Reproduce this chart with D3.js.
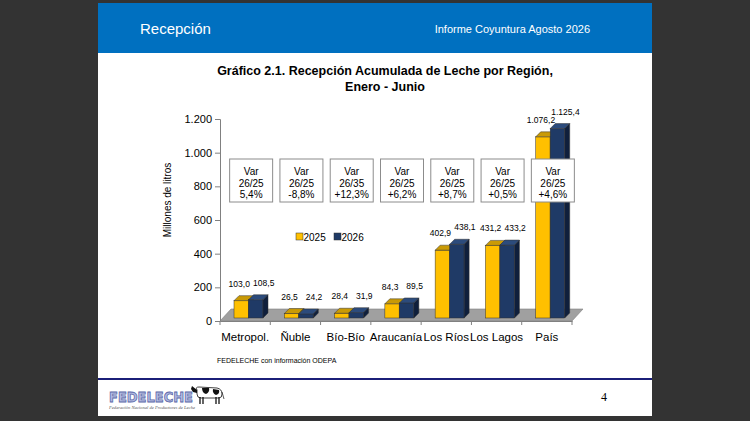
<!DOCTYPE html>
<html>
<head>
<meta charset="utf-8">
<script src="https://cdn.jsdelivr.net/npm/d3@7"></script>
<style>
  html, body { margin: 0; padding: 0; background: #333333; }
  svg { display: block; font-family: "Liberation Sans", Arial, sans-serif; }
</style>
</head>
<body>
<div id="plot"></div>
<script>
// Data
var regions = ["Metropol.", "Ñuble", "Bío-Bío", "Araucanía", "Los Ríos", "Los Lagos", "País"];
var years = ["2025", "2026"];
var values2025 = [103.0, 26.5, 28.4, 84.3, 402.9, 431.2, 1076.2];
var values2026 = [108.5, 24.2, 31.9, 89.5, 438.1, 433.2, 1125.4];
var varPeriods = ["26/25", "26/25", "26/35", "26/25", "26/25", "26/25", "26/25"];
var varLabels = ["5,4%", "-8,8%", "+12,3%", "+6,2%", "+8,7%", "+0,5%", "+4,6%"];
var yTicks = [0, 200, 400, 600, 800, 1000, 1200];

var W = 750, H = 421;
var colors = {
  "2025": {front: "#FFC000", top: "#C99A06", side: "#A67F00"},
  "2026": {front: "#1F3A66", top: "#2C4B7C", side: "#0F1F3C"}
};

// es-CL number format: "." thousands, "," decimals
var loc = d3.formatLocale({decimal: ",", thousands: ".", grouping: [3], currency: ["$", ""]});
var fmtTick = loc.format(",.0f");
var fmtVal = loc.format(",.1f");

var svg = d3.select("#plot").append("svg")
    .attr("width", W)
    .attr("height", H);

// slide page
svg.append("rect").attr("x", 98).attr("y", 3).attr("width", 554).attr("height", 413).attr("fill", "#fff");
svg.append("rect").attr("x", 98).attr("y", 3).attr("width", 554).attr("height", 50).attr("fill", "#0070C0");
svg.append("text").attr("x", 140).attr("y", 34).attr("fill", "#fff").style("font-size", "15px").text("Recepción");
svg.append("text").attr("x", 590).attr("y", 33).attr("text-anchor", "end").attr("fill", "#fff")
    .style("font-size", "11px").text("Informe Coyuntura Agosto 2026");

// chart title
var title = svg.append("text").attr("text-anchor", "middle").attr("font-weight", "bold").style("font-size", "12.5px");
title.append("tspan").attr("x", 385).attr("y", 75).text("Gráfico 2.1. Recepción Acumulada de Leche por Región,");
title.append("tspan").attr("x", 385).attr("y", 91).text("Enero - Junio");

// scales
var y = d3.scaleLinear().domain([0, 1200]).range([321, 119]);
var x = d3.scaleBand().domain(regions).range([220, 572]);
var xYear = d3.scaleBand().domain(years).range([14, 43]);

var floorD = {dx: 11, dy: -12};   // depth of the floor
var barD = {dx: 5, dy: -5};       // depth of each bar
var sink = 3;                     // bars stand a bit behind the front edge

// floor
var x0 = x.range()[0], x1 = x.range()[1], yb = y(0);
svg.append("path")
    .attr("d", "M" + x0 + "," + yb + "L" + x1 + "," + yb + "L" + (x1 + floorD.dx) + "," + (yb + floorD.dy) +
               "L" + (x0 + floorD.dx) + "," + (yb + floorD.dy) + "Z")
    .attr("fill", "#A0A0A0").attr("stroke", "#808080").attr("stroke-width", 0.6);

// y axis
var yAxis = svg.append("g")
    .attr("transform", "translate(220,0)")
    .call(d3.axisLeft(y).tickValues(yTicks).tickFormat(fmtTick).tickSize(5).tickPadding(3));
yAxis.select(".domain").attr("stroke", "#808080");
yAxis.selectAll(".tick line").attr("stroke", "#808080");
yAxis.selectAll("text").style("font-size", "11px").style("font-family", "Liberation Sans, Arial, sans-serif").attr("fill", "#000");

svg.append("text")
    .attr("transform", "translate(171,200) rotate(-90)")
    .attr("text-anchor", "middle")
    .style("font-size", "10px")
    .text("Millones de litros");

// x axis
var xAxis = svg.append("g")
    .attr("transform", "translate(0," + yb + ")")
    .call(d3.axisBottom(x).tickSize(0).tickPadding(12));
xAxis.select(".domain").attr("stroke", "#808080");
xAxis.selectAll("text").style("font-size", "11.5px").style("font-family", "Liberation Sans, Arial, sans-serif").attr("fill", "#000");
svg.append("g").selectAll("line")
    .data(d3.range(regions.length + 1))
    .enter().append("line")
      .attr("x1", function(i) { return x0 + i * x.step(); })
      .attr("x2", function(i) { return x0 + i * x.step(); })
      .attr("y1", yb).attr("y2", yb + 4)
      .attr("stroke", "#808080");

// bars (front, top, side faces)
var barData = [];
regions.forEach(function(r, i) {
  barData.push({region: r, year: "2025", value: values2025[i]});
  barData.push({region: r, year: "2026", value: values2026[i]});
});

var bars = svg.append("g").selectAll("g")
    .data(barData)
    .enter().append("g");

bars.each(function(d) {
  var g = d3.select(this);
  var bx = x(d.region) + xYear(d.year);
  var bw = xYear.bandwidth();
  var top = y(d.value) - sink, bot = y(0) - sink;
  var c = colors[d.year];
  g.append("rect").attr("x", bx).attr("y", top).attr("width", bw).attr("height", bot - top)
      .attr("fill", c.front).attr("stroke", "#333").attr("stroke-width", 0.5);
  g.append("path")
      .attr("d", "M" + bx + "," + top + "L" + (bx + bw) + "," + top + "L" + (bx + bw + barD.dx) + "," + (top + barD.dy) +
                 "L" + (bx + barD.dx) + "," + (top + barD.dy) + "Z")
      .attr("fill", c.top).attr("stroke", "#333").attr("stroke-width", 0.5);
  g.append("path")
      .attr("d", "M" + (bx + bw) + "," + top + "L" + (bx + bw) + "," + bot + "L" + (bx + bw + barD.dx) + "," + (bot + barD.dy) +
                 "L" + (bx + bw + barD.dx) + "," + (top + barD.dy) + "Z")
      .attr("fill", c.side).attr("stroke", "#333").attr("stroke-width", 0.5);
});

// value labels
svg.append("g").selectAll("text")
    .data(barData)
    .enter().append("text")
      .attr("x", function(d) {
        var cx = x(d.region) + xYear(d.year) + xYear.bandwidth() / 2;
        return d.year === "2025" ? cx - 2 : cx + 8;
      })
      .attr("y", function(d) { return y(d.value) - sink - 14; })
      .attr("text-anchor", "middle")
      .style("font-size", "8.5px")
      .text(function(d) { return fmtVal(d.value); });

// variation boxes
var boxW = 43, boxH = 43;
var boxes = svg.append("g").selectAll("g")
    .data(regions)
    .enter().append("g")
      .attr("transform", function(r) { return "translate(" + (x(r) + x.bandwidth() / 2 + 6 - boxW / 2) + ",159)"; });
boxes.append("rect").attr("width", boxW).attr("height", boxH)
    .attr("fill", "#fff").attr("stroke", "#8c8c8c").attr("stroke-width", 1);
boxes.each(function(r, i) {
  var t = d3.select(this).append("text").attr("text-anchor", "middle").style("font-size", "10px");
  ["Var", varPeriods[i], varLabels[i]].forEach(function(s, k) {
    t.append("tspan").attr("x", boxW / 2).attr("y", 16 + k * 11.5).text(s);
  });
});

// legend
var legend = svg.append("g").attr("transform", "translate(296,233)");
years.forEach(function(yr, i) {
  var lg = legend.append("g").attr("transform", "translate(" + (i * 38) + ",0)");
  lg.append("rect").attr("width", 7).attr("height", 7).attr("fill", colors[yr].front).attr("stroke", "#333").attr("stroke-width", 0.5);
  lg.append("text").attr("x", 7.5).attr("y", 7.5).style("font-size", "10px").text(yr);
});

// source note
svg.append("text").attr("x", 217).attr("y", 363).style("font-size", "7px").text("FEDELECHE con información ODEPA");

// footer
svg.append("line").attr("x1", 98).attr("x2", 652).attr("y1", 379).attr("y2", 379)
    .attr("stroke", "#1B1F78").attr("stroke-width", 2);
svg.append("text").attr("x", 604).attr("y", 401).attr("text-anchor", "middle")
    .style("font-family", "Liberation Serif, serif").style("font-size", "12px").text("4");

// logo
var logo = svg.append("g");
logo.append("text").attr("x", 109).attr("y", 402)
    .attr("textLength", 84).attr("lengthAdjust", "spacingAndGlyphs")
    .style("font-family", "DejaVu Sans, sans-serif").style("font-weight", "bold").style("font-size", "14px")
    .attr("fill", "#B3BCE3").attr("stroke", "#5B67A8").attr("stroke-width", 0.8)
    .text("FEDELECHE");
logo.append("text").attr("x", 109).attr("y", 409)
    .attr("textLength", 86).attr("lengthAdjust", "spacingAndGlyphs")
    .style("font-family", "Liberation Serif, serif").style("font-style", "italic").style("font-size", "4.5px")
    .attr("fill", "#555").text("Federación Nacional de Productores de Leche");
var cow = logo.append("g").attr("transform", "translate(191,384)");
cow.append("path").attr("d", "M6,6 Q4,3 8,3 L26,4 Q31,5 31,10 Q31,14 28,14 L10,14 Q6,14 6,10 Z")
    .attr("fill", "#fff").attr("stroke", "#111").attr("stroke-width", 0.8);
cow.append("path").attr("d", "M11,4 L18,4 Q19,8 15,10 Q11,9 11,4 Z").attr("fill", "#111");
cow.append("path").attr("d", "M22,5 L28,6 Q29,10 25,11 Q21,9 22,5 Z").attr("fill", "#111");
cow.append("path").attr("d", "M6,6 L1,2 L0,5 L2,8 L6,9 Z").attr("fill", "#111");
[9, 12, 25, 28].forEach(function(lx) {
  cow.append("line").attr("x1", lx).attr("x2", lx).attr("y1", 13).attr("y2", 20).attr("stroke", "#111").attr("stroke-width", 1.3);
});
cow.append("line").attr("x1", 31).attr("x2", 33).attr("y1", 8).attr("y2", 15).attr("stroke", "#111").attr("stroke-width", 0.7);
</script>
</body>
</html>
